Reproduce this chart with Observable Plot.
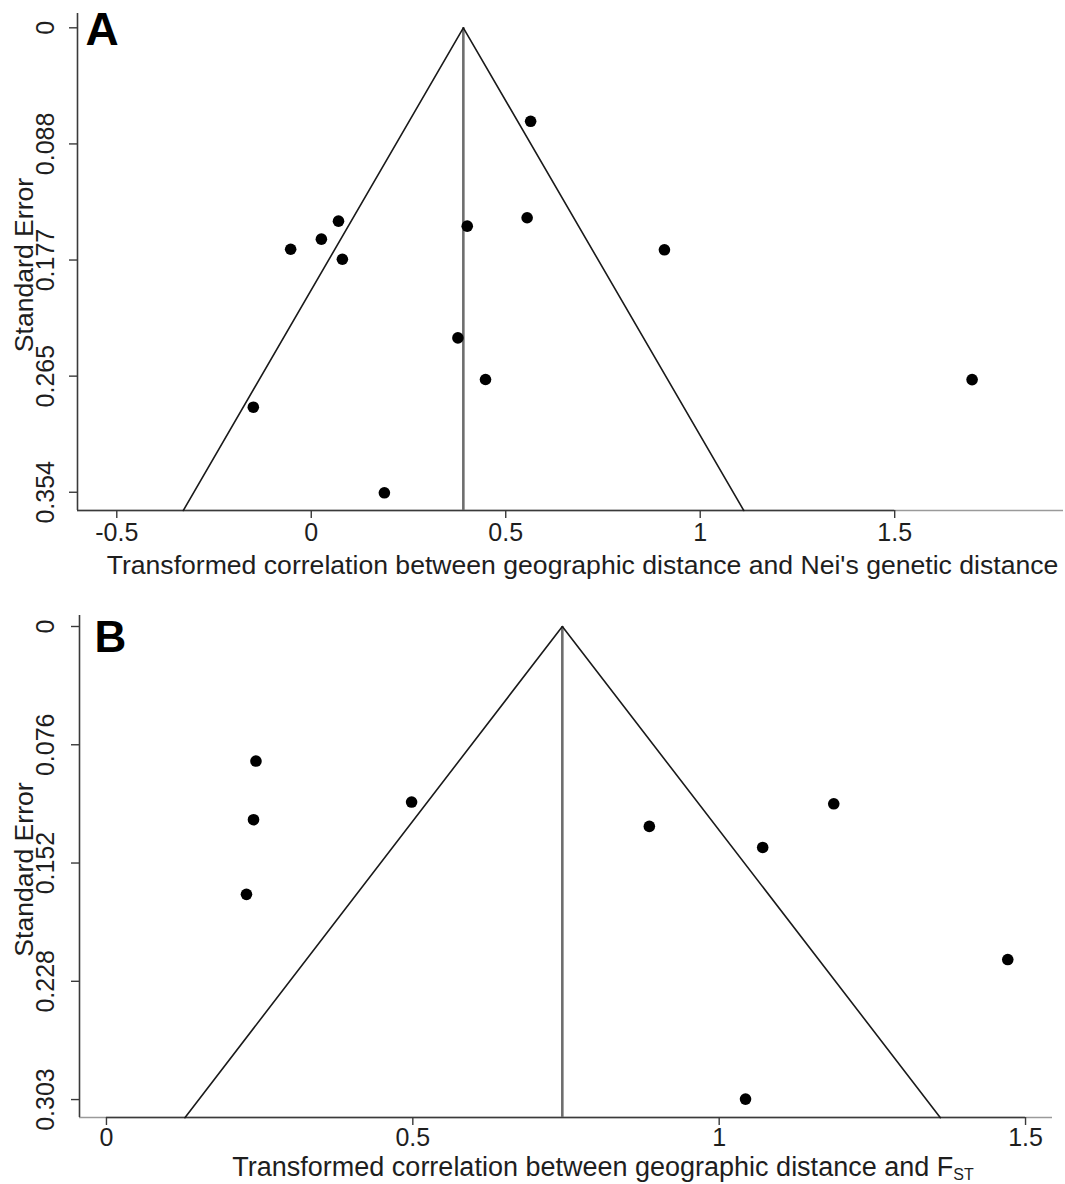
<!DOCTYPE html>
<html>
<head>
<meta charset="utf-8">
<script src="https://cdn.jsdelivr.net/npm/d3@7"></script>
<script src="https://cdn.jsdelivr.net/npm/@observablehq/plot@0.6"></script>
<style>
  html, body { margin: 0; padding: 0; background: #fff; }
  #chart { width: 1065px; }
  #chart svg { display: block; }
</style>
</head>
<body>
<div id="chart"></div>
<script>
// ---------- Panel A: Nei's genetic distance ----------
const aEffect = [0.564, 0.401, 0.555, 0.908, -0.053, 0.026, 0.070, 0.080, -0.149, 0.377, 0.448, 0.188, 1.699];
const aSE     = [0.0712, 0.1511, 0.1447, 0.1691, 0.1687, 0.1610, 0.1473, 0.1763, 0.2890, 0.2362, 0.2679, 0.3542, 0.2680];
const aPooled = 0.391;
const aFunnelX = [-0.329, 0.391, 1.112];
const aFunnelY = [0.3677, 0, 0.3677];
const aXTicks = [-0.5, 0, 0.5, 1, 1.5];
const aXTickLabels = ["-0.5", "0", "0.5", "1", "1.5"];
const aYTicks = [0, 0.08845, 0.1769, 0.26535, 0.3538];
const aYTickLabels = ["0", "0.088", "0.177", "0.265", "0.354"];
const aXDomain = [-0.601, 1.934];
const aYDomain = [-0.0109, 0.3677];
const aXTitle = "Transformed correlation between geographic distance and Nei's genetic distance";

// ---------- Panel B: FST ----------
const bEffect = [0.244, 0.240, 0.2285, 0.498, 0.886, 1.071, 1.187, 1.471, 1.043];
const bSE     = [0.0863, 0.1239, 0.1718, 0.1126, 0.1282, 0.1417, 0.1137, 0.2136, 0.3031];
const bPooled = 0.744;
const bFunnelX = [0.128, 0.744, 1.361];
const bFunnelY = [0.315, 0, 0.315];
const bXTicks = [0, 0.5, 1, 1.5];
const bXTickLabels = ["0", "0.5", "1", "1.5"];
const bYTicks = [0, 0.07585, 0.1517, 0.22755, 0.3034];
const bYTickLabels = ["0", "0.076", "0.152", "0.228", "0.303"];
const bXDomain = [-0.044, 1.544];
const bYDomain = [-0.00705, 0.3149];
const bXTitleMain = "Transformed correlation between geographic distance and F";
const bXTitleSub = "ST";

const yTitle = "Standard Error";
const FONT = "'Liberation Sans', Arial, Helvetica, sans-serif";

function panel(cfg) {
  const pts = cfg.effect.map((e, i) => ({x: e, y: cfg.se[i]}));
  const funnel = cfg.funnelX.map((x, i) => ({x, y: cfg.funnelY[i]}));
  const xt = cfg.xTicks.map((v, i) => ({v, label: cfg.xTickLabels[i]}));
  const yt = cfg.yTicks.map((v, i) => ({v, label: cfg.yTickLabels[i]}));
  const yBottom = cfg.yDomain[1];
  const marks = [
    // x axis line: light full frame edge, darker between first and last tick
    Plot.ruleY([yBottom], {stroke: "#9a9a9a", strokeWidth: 1.6}),
    Plot.ruleY([yBottom], {x1: cfg.xDark[0], x2: cfg.xDark[1], stroke: "#3a3a3a", strokeWidth: 1.6}),
    // y axis line
    Plot.ruleX([cfg.xDomain[0]], {stroke: "#3a3a3a", strokeWidth: 1.6}),
    Plot.axisX({ticks: cfg.xTicks, tickSize: 8, tickFormat: () => "", label: null, stroke: "#3a3a3a", strokeWidth: 1.4}),
    Plot.axisY({ticks: cfg.yTicks, tickSize: 8, tickFormat: () => "", label: null, stroke: "#3a3a3a", strokeWidth: 1.4}),
    Plot.text(xt, {x: "v", text: "label", frameAnchor: "bottom", dy: cfg.xLabelDy, textAnchor: "middle", lineAnchor: "middle", fontSize: 25, fill: "#1e1e1e"}),
    Plot.text(yt, {y: "v", text: "label", frameAnchor: "left", dx: cfg.yLabelDx, rotate: -90, textAnchor: "middle", lineAnchor: "middle", fontSize: 25, fill: "#1e1e1e"}),
    Plot.text([yTitle], {frameAnchor: "left", dx: cfg.yTitleDx, dy: cfg.yTitleDy, rotate: -90, textAnchor: "middle", lineAnchor: "middle", fontSize: 26.6, fill: "#1e1e1e"}),
    Plot.text([cfg.letter], {frameAnchor: "top-left", dx: cfg.letterDx, dy: cfg.letterDy, textAnchor: "start", lineAnchor: "top", fontSize: cfg.letterSize, fontWeight: "bold", fill: "#000"}),
    // pooled estimate
    Plot.ruleX([cfg.pooled], {y1: 0, y2: yBottom, stroke: "#6e6e6e", strokeWidth: 2.6}),
    // pseudo 95% confidence funnel
    Plot.line(funnel, {x: "x", y: "y", stroke: "#1a1a1a", strokeWidth: 1.6}),
    Plot.dot(pts, {x: "x", y: "y", r: 5.8, fill: "#000", stroke: "none"})
  ];
  if (cfg.xTitle) {
    marks.push(Plot.text([cfg.xTitle], {frameAnchor: "bottom", dx: cfg.xTitleDx, dy: cfg.xTitleDy, textAnchor: "middle", lineAnchor: "top", fontSize: 26.6, fill: "#1e1e1e"}));
  }
  return Plot.plot({
    width: 1065,
    height: cfg.height,
    marginLeft: cfg.mL, marginRight: cfg.mR, marginTop: cfg.mT, marginBottom: cfg.mB,
    style: {fontFamily: FONT, background: "#fff", color: "#1e1e1e", overflow: "visible"},
    x: {domain: cfg.xDomain, axis: null},
    y: {domain: cfg.yDomain, reverse: true, axis: null},
    marks
  });
}

const chart = document.getElementById("chart");

const svgA = panel({
  letter: "A", letterSize: 46, letterDx: 8, letterDy: -1,
  effect: aEffect, se: aSE, pooled: aPooled, funnelX: aFunnelX, funnelY: aFunnelY,
  xTicks: aXTicks, xTickLabels: aXTickLabels, yTicks: aYTicks, yTickLabels: aYTickLabels,
  xDomain: aXDomain, yDomain: aYDomain, xDark: [aXDomain[0], aXTicks[aXTicks.length - 1]],
  height: 590, mL: 77, mR: 2, mT: 13, mB: 80,
  xLabelDy: 22, yLabelDx: -32, yTitleDx: -53, yTitleDy: 3,
  xTitle: aXTitle, xTitleDx: 12, xTitleDy: 45
});
chart.appendChild(svgA);

const svgB = panel({
  letter: "B", letterSize: 44, letterDx: 15, letterDy: 5,
  effect: bEffect, se: bSE, pooled: bPooled, funnelX: bFunnelX, funnelY: bFunnelY,
  xTicks: bXTicks, xTickLabels: bXTickLabels, yTicks: bYTicks, yTickLabels: bYTickLabels,
  xDomain: bXDomain, yDomain: bYDomain, xDark: [bXTicks[0], bXTicks[bXTicks.length - 1]],
  height: 594, mL: 79, mR: 13, mT: 25, mB: 67,
  xLabelDy: 20, yLabelDx: -34, yTitleDx: -55, yTitleDy: 3,
  xTitle: null
});
chart.appendChild(svgB);

// x title of panel B with subscript
const tB = d3.select(svgB).append("text")
  .attr("x", 603).attr("y", 586)
  .attr("text-anchor", "middle")
  .attr("font-family", FONT)
  .attr("font-size", 27)
  .attr("fill", "#1e1e1e");
tB.append("tspan").text(bXTitleMain);
tB.append("tspan").attr("font-size", 16).attr("dy", 4).text(bXTitleSub);
</script>
</body>
</html>
